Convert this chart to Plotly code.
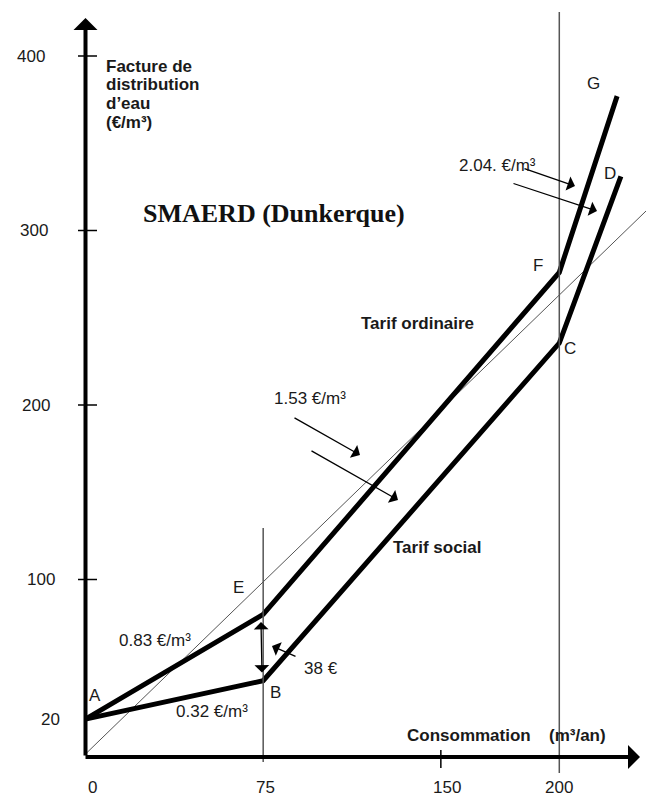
import plotly.graph_objects as go

# ---------------- data ----------------
tarif_ordinaire_x = [0, 75, 200, 224.4]      # A, E, F, G
tarif_ordinaire_y = [20, 80, 276, 377]
tarif_social_x = [0, 75, 200, 226]           # A, B, C, D
tarif_social_y = [20, 42, 235.5, 331]
reference_x = [0, 238]
reference_y = [0, 313]

x_tick_values = [0, 75, 150, 200]
x_tick_labels = ["0", "75", "150", "200"]
y_tick_values = [400, 300, 200, 100, 20]
y_tick_labels = ["400", "300", "200", "100", "20"]
y_tick_marks = [100, 200, 300, 400]

point_names = ["A", "E", "F", "G", "B", "C", "D"]
slope_labels = ["0.83 €/m³", "0.32 €/m³", "1.53 €/m³", "2.04. €/m³"]
gap_label = "38 €"

# ---------------- page-pixel <-> data helpers (layout only) ----------------
X0, SX = 85.5, 2.369
Y0, SY = 754.0, 1.745
BODY = 8  # default page margin around the plot div


def X(px):
    return (px - X0) / SX


def Y(py):
    return (Y0 - py) / SY


PAGE_W, PAGE_H = 654, 800
W, H = PAGE_W - BODY, PAGE_H - BODY
SANS = "Liberation Sans, Arial, Helvetica, sans-serif"
TXT = "#1a1a1a"

fig = go.Figure()

# thin reference diagonal
fig.add_trace(go.Scatter(x=reference_x, y=reference_y, mode="lines",
                         line=dict(color="#555555", width=1), hoverinfo="skip"))
# tariff lines
fig.add_trace(go.Scatter(x=tarif_ordinaire_x, y=tarif_ordinaire_y, mode="lines",
                         line=dict(color="black", width=5), hoverinfo="skip"))
fig.add_trace(go.Scatter(x=tarif_social_x, y=tarif_social_y, mode="lines",
                         line=dict(color="black", width=5), hoverinfo="skip"))

shapes = []
# vertical guide lines at 75 and 200
shapes.append(dict(type="line", xref="x", yref="y", x0=75, x1=75, y0=Y(762), y1=Y(528),
                   line=dict(color="#555555", width=1.5)))
shapes.append(dict(type="line", xref="x", yref="y", x0=200, x1=200, y0=Y(773), y1=Y(12),
                   line=dict(color="#555555", width=1.5)))
# y-axis tick marks
for v in y_tick_marks:
    shapes.append(dict(type="line", xref="x", yref="y", x0=X(78), x1=X(97), y0=v, y1=v,
                       line=dict(color="black", width=1.5)))
# x-axis tick at 150
shapes.append(dict(type="line", xref="x", yref="y", x0=150, x1=150, y0=Y(768), y1=Y(750),
                   line=dict(color="black", width=1.5)))

ann = []
# axes with arrowheads
ann.append(dict(x=0, y=Y(18), ax=0, ay=Y(757), xref="x", yref="y", axref="x", ayref="y",
                text="", showarrow=True, arrowhead=1, arrowsize=1.0, arrowwidth=4,
                arrowcolor="black", standoff=0))
ann.append(dict(x=X(640), y=Y(757), ax=X(84), ay=Y(757), xref="x", yref="y", axref="x", ayref="y",
                text="", showarrow=True, arrowhead=1, arrowsize=1.0, arrowwidth=4,
                arrowcolor="black", standoff=0))


def arrow(tail, head, width=1.3, size=1.9, both=False):
    ann.append(dict(x=X(head[0]), y=Y(head[1]), ax=X(tail[0]), ay=Y(tail[1]),
                    xref="x", yref="y", axref="x", ayref="y", text="", showarrow=True,
                    arrowhead=1, arrowsize=size, arrowwidth=width, arrowcolor="black",
                    standoff=0, startstandoff=0,
                    arrowside="end+start" if both else "end",
                    startarrowhead=1, startarrowsize=size))


# 1.53 arrows
arrow((293, 417), (360, 455))
arrow((310, 450), (398, 500))
# 2.04 arrows
arrow((523, 168), (575, 186))
arrow((512, 183), (597, 211))
# 38 € pointer
arrow((297, 657), (272, 646))
# double arrow E-B
arrow((262, 674), (261, 622), width=1.3, size=1.9, both=True)


def text(s, px, py, size=17, anchor="left", bold=False, family=SANS, color=TXT):
    ann.append(dict(x=X(px), y=Y(py), xref="x", yref="y", text=(f"<b>{s}</b>" if bold else s),
                    showarrow=False, xanchor=anchor, yanchor="middle",
                    font=dict(family=family, size=size, color=color)))


# y tick labels
y_label_right = [47, 50, 52, 57, 62]
for v, lab, r in zip(y_tick_values, y_tick_labels, y_label_right):
    ann.append(dict(x=X(r), y=v, xref="x", yref="y", text=lab, showarrow=False,
                    xanchor="right", yanchor="middle",
                    font=dict(family=SANS, size=17, color=TXT)))
# x tick labels
x_label_shift = [7, 2, 6, 0]
for v, lab, s in zip(x_tick_values, x_tick_labels, x_label_shift):
    ann.append(dict(x=v, y=Y(787), xref="x", yref="y", text=lab, showarrow=False,
                    xanchor="center", yanchor="middle", xshift=s,
                    font=dict(family=SANS, size=17, color=TXT)))

# axis titles
for line, py in zip(["Facture de", "distribution", "d’eau", "(€/m³)"], [66, 84, 103, 122]):
    text(line, 104, py, size=17, bold=True)
text("Consommation", 405, 735, size=17, bold=True)
text("(m³/an)", 547, 735, size=17, bold=True)

# title
text("SMAERD (Dunkerque)", 141, 213, size=26, bold=True,
     family="Liberation Serif, Times New Roman, serif", color="#111111")

# series labels
text("Tarif ordinaire", 359, 323, size=17, bold=True)
text("Tarif social", 391, 547, size=17, bold=True)

# slope labels
text(slope_labels[0], 117, 640, size=17)
text(slope_labels[1], 174, 711, size=17)
text(slope_labels[2], 272, 398, size=17)
text(slope_labels[3], 457, 165, size=17)
text(gap_label, 302, 668, size=17)

# point names
point_px = {"A": (95, 695), "E": (238, 587), "F": (538, 265), "G": (593, 83),
            "B": (275, 692), "C": (570, 348), "D": (610, 173)}
for n in point_names:
    px, py = point_px[n]
    text(n, px, py, size=17, anchor="center")

fig.update_layout(
    width=W, height=H, autosize=False,
    margin=dict(l=0, r=0, t=0, b=0, pad=0),
    paper_bgcolor="white", plot_bgcolor="white",
    showlegend=False,
    xaxis=dict(range=[X(BODY), X(BODY + W)], visible=False, fixedrange=True),
    yaxis=dict(range=[Y(BODY + H), Y(BODY)], visible=False, fixedrange=True),
    shapes=shapes, annotations=ann,
)

fig.write_html("out.html")
